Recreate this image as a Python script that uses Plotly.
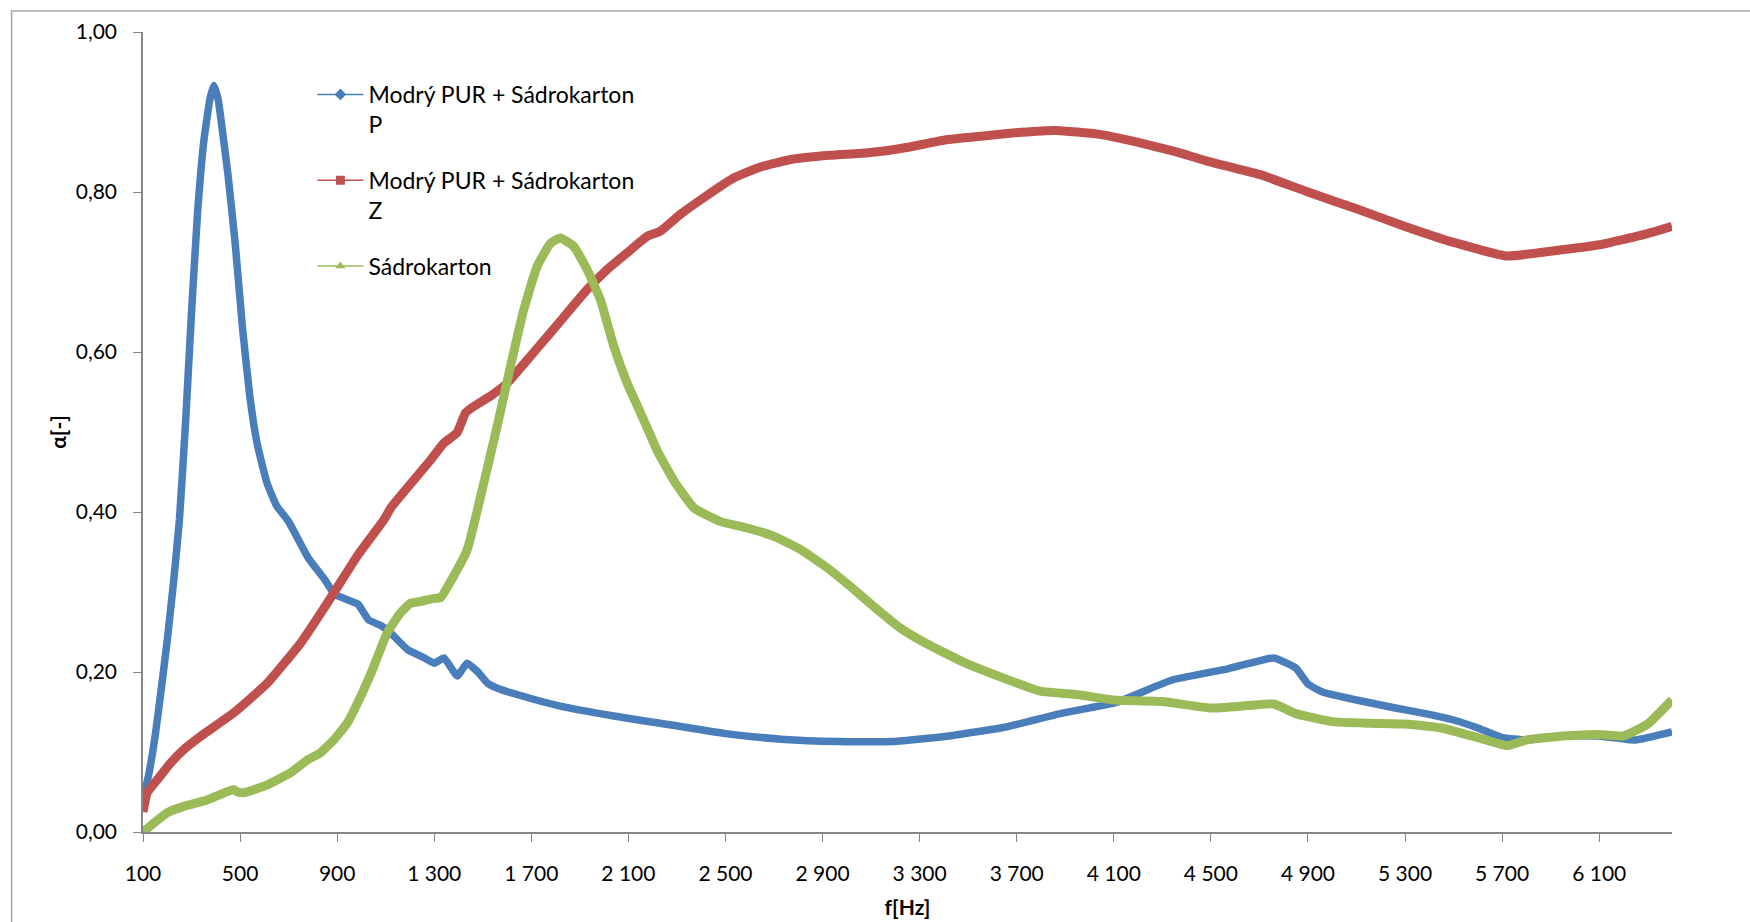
import plotly.graph_objects as go

# ---------------- data ----------------
blue_name = "Modrý PUR + Sádrokarton<br>P"
red_name = "Modrý PUR + Sádrokarton<br>Z"
green_name = "Sádrokarton"

blue_f = [100, 125, 150, 175, 200, 225, 250, 275, 300, 325, 350, 375, 392, 410, 430, 450, 480, 510, 540, 570,
          610, 650, 700, 780, 850, 890, 985, 1030, 1080, 1120, 1190, 1260, 1300, 1340, 1395, 1435, 1480, 1520,
          1575, 1720, 1810, 2040, 2270, 2500, 2730, 2960, 3190, 3420, 3650, 3880, 4110, 4340, 4570, 4700, 4760,
          4850, 4900, 4960, 5100, 5260, 5400, 5500, 5600, 5700, 5800, 5950, 6100, 6250, 6400]
blue_a = [0.040, 0.074, 0.120, 0.178, 0.240, 0.310, 0.390, 0.510, 0.650, 0.775, 0.862, 0.915, 0.933, 0.915,
          0.870, 0.822, 0.735, 0.630, 0.545, 0.486, 0.437, 0.408, 0.388, 0.343, 0.315, 0.297, 0.285, 0.265,
          0.258, 0.249, 0.228, 0.2175, 0.211, 0.2175, 0.195, 0.211, 0.200, 0.186, 0.178, 0.165, 0.158, 0.145,
          0.134, 0.123, 0.116, 0.113, 0.113, 0.120, 0.131, 0.148, 0.162, 0.190, 0.204, 0.214, 0.2176, 0.205,
          0.185, 0.175, 0.165, 0.155, 0.147, 0.140, 0.130, 0.118, 0.115, 0.120, 0.120, 0.115, 0.125]

red_f = [100, 117, 158, 213, 268, 337, 474, 612, 749, 859, 985, 1092, 1123, 1285, 1339, 1394, 1429, 1463, 1532,
         1600, 1683, 1765, 1848, 1930, 2012, 2095, 2177, 2232, 2314, 2411, 2537, 2647, 2773, 2931, 3089, 3246,
         3404, 3562, 3719, 3862, 4035, 4192, 4350, 4480, 4700, 4900, 5100, 5300, 5500, 5720, 5900, 6100, 6300,
         6400]
red_a = [0.025, 0.049, 0.065, 0.086, 0.103, 0.1195, 0.149, 0.186, 0.236, 0.286, 0.346, 0.390, 0.406, 0.465,
         0.486, 0.499, 0.524, 0.532, 0.545, 0.561, 0.590, 0.619, 0.649, 0.678, 0.703, 0.724, 0.7445, 0.751,
         0.772, 0.793, 0.818, 0.8316, 0.841, 0.846, 0.849, 0.8556, 0.865, 0.870, 0.8747, 0.877, 0.8724, 0.8627,
         0.8507, 0.839, 0.822, 0.800, 0.779, 0.757, 0.737, 0.720, 0.726, 0.734, 0.748, 0.757]

green_f = [100, 144, 199, 268, 364, 474, 490, 515, 612, 708, 777, 831, 886, 941, 996, 1051, 1106, 1161, 1202,
           1240, 1300, 1326, 1380, 1436, 1504, 1559, 1614, 1669, 1724, 1779, 1820, 1875, 1930, 1985, 2040, 2095,
           2150, 2220, 2290, 2370, 2480, 2590, 2700, 2810, 2920, 3030, 3110, 3220, 3325, 3483, 3640, 3798, 3956,
           4100, 4300, 4500, 4650, 4760, 4850, 5000, 5150, 5300, 5450, 5600, 5720, 5800, 5950, 6100, 6200, 6300,
           6400]
green_a = [0.000, 0.011, 0.024, 0.032, 0.040, 0.053, 0.050, 0.049, 0.059, 0.074, 0.090, 0.099, 0.115, 0.136,
           0.169, 0.207, 0.249, 0.274, 0.286, 0.288, 0.292, 0.293, 0.320, 0.353, 0.436, 0.507, 0.582, 0.653,
           0.707, 0.736, 0.7425, 0.732, 0.703, 0.665, 0.607, 0.561, 0.524, 0.476, 0.438, 0.405, 0.388, 0.380,
           0.3695, 0.353, 0.330, 0.303, 0.282, 0.255, 0.236, 0.212, 0.193, 0.176, 0.1715, 0.165, 0.163, 0.155,
           0.158, 0.160, 0.148, 0.138, 0.136, 0.135, 0.130, 0.118, 0.108, 0.115, 0.120, 0.122, 0.120, 0.135,
           0.165]

x_ticks = [100, 500, 900, 1300, 1700, 2100, 2500, 2900, 3300, 3700, 4100, 4500, 4900, 5300, 5700, 6100]
x_title = "f[Hz]"
y_title = "α[-]"

# ---------------- styling ----------------
BLUE = "#4A7EBB"
RED = "#C0504D"
GREEN = "#9BBB59"
AXIS = "#868686"
FONT = "Lato, 'Open Sans', sans-serif"

W, H = 1750, 922
ML, MR, MT, MB = 142.5, 77.5, 32, 90
PW, PH = W - ML - MR, H - MT - MB

fig = go.Figure()

series = [
    (blue_f, blue_a, blue_name, BLUE, "diamond", 7.5),
    (red_f, red_a, red_name, RED, "square", 9),
    (green_f, green_a, green_name, GREEN, "triangle-up", 9),
]

for i, (fx, fa, name, col, sym, lw) in enumerate(series):
    fig.add_trace(go.Scatter(
        x=fx, y=fa, mode="lines", line=dict(color=col, width=lw, shape="spline", smoothing=0.4),
        showlegend=False, hoverinfo="x+y", name=name.replace("<br>", " ")))

for i, (fx, fa, name, col, sym, lw) in enumerate(series):
    fig.add_trace(go.Scatter(
        x=[None], y=[None], mode="lines+markers", name=name, legendgroup=f"g{i}",
        line=dict(color=col, width=1.5), marker=dict(symbol=sym, size=9, color=col)))

fig.update_layout(
    width=W, height=H,
    margin=dict(l=ML, r=MR, t=MT, b=MB, pad=0, autoexpand=False),
    paper_bgcolor="white", plot_bgcolor="white",
    separators=", ",
    font=dict(family=FONT, size=21, color="black"),
    legend=dict(
        x=(312 - ML) / PW, y=(H - MB - 73) / PH, xanchor="left", yanchor="top",
        font=dict(family=FONT, size=23, color="black"),
        bgcolor="rgba(0,0,0,0)", tracegroupgap=23, valign="top", itemwidth=46,
    ),
    xaxis=dict(
        range=[100, 6400], tickmode="array", tickvals=x_ticks, tickformat=",d", automargin=False,
        showline=True, linecolor=AXIS, linewidth=1.5, ticks="outside", ticklen=8, tickcolor=AXIS,
        tickwidth=1.3, showgrid=False, zeroline=False, ticklabelstandoff=14,
        tickfont=dict(family=FONT, size=21, color="black"),
        title=dict(text="<b>" + x_title + "</b>", standoff=16, font=dict(family=FONT, size=21, color="black")),
    ),
    yaxis=dict(
        range=[0, 1], dtick=0.2, tick0=0, tickformat=",.2f", automargin=False,
        showline=True, linecolor=AXIS, linewidth=1.5, ticks="outside", ticklen=8, tickcolor=AXIS,
        tickwidth=1.3, showgrid=False, zeroline=False, ticklabelstandoff=12,
        tickfont=dict(family=FONT, size=21, color="black"),
        title=dict(text="<b>" + y_title + "</b>", standoff=3, font=dict(family=FONT, size=21, color="black")),
    ),
    shapes=[dict(
        type="rect", xref="paper", yref="paper",
        x0=(11 - ML) / PW, x1=(W + 20 - ML) / PW,
        y0=(H - MB - (H + 20)) / PH, y1=(H - MB - 11) / PH,
        line=dict(color="#A6A6A6", width=1.5), fillcolor="rgba(0,0,0,0)", layer="below")],
)

fig.write_html("out.html")
